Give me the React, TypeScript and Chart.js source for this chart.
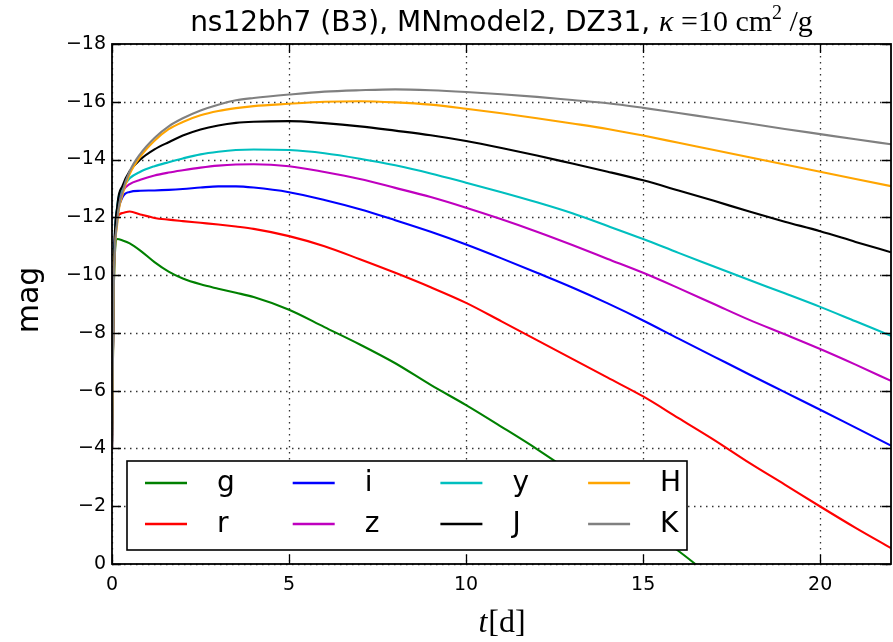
import React, { useEffect, useRef } from 'react';
import { Chart, registerables } from 'chart.js';

Chart.register(...registerables);

// ---------- data ----------
const times = [0, 0.05, 0.15, 0.3, 0.5, 0.8, 1.2, 1.6, 2, 2.5, 3, 3.5, 4, 5, 6, 7, 8, 9, 10, 11, 12, 13, 14, 15, 16, 17, 18, 19, 20, 21, 22];

const gMag = [-4, -9.5, -11.25, -11.2, -11.1, -10.85, -10.45, -10.12, -9.88, -9.68, -9.53, -9.39, -9.24, -8.8, -8.2, -7.6, -6.95, -6.2, -5.5, -4.75, -3.98, -3.15, -2.25, -1.35, -0.45, 0.5, 1.4, 2.3, 3.2, 4.1, 5.0];
const rMag = [-4, -10, -12.0, -12.15, -12.2, -12.1, -11.98, -11.92, -11.87, -11.81, -11.75, -11.68, -11.6, -11.35, -11.0, -10.55, -10.08, -9.58, -9.04, -8.4, -7.75, -7.1, -6.45, -5.8, -5.05, -4.3, -3.5, -2.75, -1.99, -1.25, -0.55];
const iMag = [-4, -10, -12.0, -12.7, -12.88, -12.92, -12.93, -12.95, -12.98, -13.03, -13.07, -13.07, -13.03, -12.87, -12.6, -12.28, -11.9, -11.5, -11.06, -10.58, -10.08, -9.57, -9.02, -8.43, -7.8, -7.18, -6.56, -5.95, -5.34, -4.72, -4.1];
const zMag = [-4, -10, -12.3, -12.9, -13.15, -13.3, -13.45, -13.55, -13.63, -13.72, -13.79, -13.83, -13.84, -13.77, -13.57, -13.33, -13.02, -12.7, -12.33, -11.93, -11.5, -11.04, -10.56, -10.08, -9.55, -9.0, -8.45, -7.95, -7.44, -6.9, -6.34];
const yMag = [-4, -10, -12.4, -13.0, -13.35, -13.58, -13.77, -13.91, -14.04, -14.18, -14.27, -14.33, -14.35, -14.33, -14.22, -14.03, -13.8, -13.52, -13.2, -12.87, -12.52, -12.14, -11.7, -11.25, -10.77, -10.3, -9.83, -9.37, -8.9, -8.4, -7.9];
const JMag = [-4, -10, -12.4, -13.1, -13.6, -14.0, -14.35, -14.6, -14.83, -15.04, -15.18, -15.27, -15.31, -15.33, -15.26, -15.15, -15.0, -14.84, -14.64, -14.4, -14.14, -13.86, -13.58, -13.28, -12.93, -12.57, -12.2, -11.85, -11.52, -11.15, -10.79];
const HMag = [-4, -9.5, -11.8, -12.8, -13.5, -14.1, -14.65, -15.05, -15.3, -15.53, -15.68, -15.78, -15.85, -15.93, -16.0, -16.02, -15.98, -15.9, -15.76, -15.6, -15.43, -15.25, -15.06, -14.83, -14.58, -14.33, -14.08, -13.83, -13.58, -13.33, -13.08];
const KMag = [-4, -9.5, -11.9, -12.9, -13.6, -14.2, -14.75, -15.15, -15.43, -15.7, -15.9, -16.05, -16.13, -16.25, -16.35, -16.4, -16.43, -16.4, -16.34, -16.26, -16.17, -16.06, -15.95, -15.79, -15.61, -15.43, -15.25, -15.06, -14.88, -14.7, -14.53];

const seriesNames = ['g', 'r', 'i', 'z', 'y', 'J', 'H', 'K'];
const seriesValues = [gMag, rMag, iMag, zMag, yMag, JMag, HMag, KMag];
const seriesColors = ['#008000', '#ff0000', '#0000ff', '#bf00bf', '#00bfbf', '#000000', '#ffa500', '#808080'];

const xTicks = [0, 5, 10, 15, 20];
const yTicks = [0, -2, -4, -6, -8, -10, -12, -14, -16, -18];

const titleSans = 'ns12bh7 (B3), MNmodel2, DZ31, ';
const yAxisTitle = 'mag';

const W = 893;
const H = 642;

const fmtMinus = (v: number) => (v < 0 ? '\u2212' + Math.abs(v) : String(v));

const decorPlugin = {
  id: 'decor',
  beforeDatasetsDraw(chart: any) {
    const { ctx, chartArea } = chart;
    const xs = chart.scales.x;
    const ys = chart.scales.y;
    ctx.save();
    ctx.strokeStyle = 'rgba(0,0,0,0.8)';
    ctx.lineWidth = 1.3;
    ctx.setLineDash([1.5, 4.5]);
    xTicks.forEach((t) => {
      const px = Math.round(xs.getPixelForValue(t)) + 0.5;
      ctx.beginPath();
      ctx.moveTo(px, chartArea.top);
      ctx.lineTo(px, chartArea.bottom);
      ctx.stroke();
    });
    yTicks.forEach((v) => {
      const py = Math.round(ys.getPixelForValue(v)) + 0.5;
      ctx.beginPath();
      ctx.moveTo(chartArea.left, py);
      ctx.lineTo(chartArea.right, py);
      ctx.stroke();
    });
    ctx.restore();
  },
  afterDatasetsDraw(chart: any) {
    const { ctx, chartArea } = chart;
    const xs = chart.scales.x;
    const ys = chart.scales.y;
    const { left, right, top, bottom } = chartArea;
    ctx.save();
    // inner ticks
    ctx.strokeStyle = '#000';
    ctx.lineWidth = 1.3;
    ctx.setLineDash([]);
    const tl = 9;
    xTicks.forEach((t) => {
      const px = Math.round(xs.getPixelForValue(t)) + 0.5;
      ctx.beginPath();
      ctx.moveTo(px, bottom);
      ctx.lineTo(px, bottom - tl);
      ctx.moveTo(px, top);
      ctx.lineTo(px, top + tl);
      ctx.stroke();
    });
    yTicks.forEach((v) => {
      const py = Math.round(ys.getPixelForValue(v)) + 0.5;
      ctx.beginPath();
      ctx.moveTo(left, py);
      ctx.lineTo(left + tl, py);
      ctx.moveTo(right, py);
      ctx.lineTo(right - tl, py);
      ctx.stroke();
    });
    // frame
    ctx.lineWidth = 1.8;
    ctx.strokeRect(left, top, right - left, bottom - top);

    // legend
    const boxL = 127, boxT = 461, boxR = 687, boxB = 550;
    ctx.fillStyle = '#fff';
    ctx.fillRect(boxL, boxT, boxR - boxL, boxB - boxT);
    ctx.lineWidth = 1.6;
    ctx.strokeStyle = '#000';
    ctx.strokeRect(boxL, boxT, boxR - boxL, boxB - boxT);
    ctx.font = '28px "DejaVu Sans"';
    ctx.textBaseline = 'middle';
    ctx.textAlign = 'left';
    chart.data.datasets.forEach((ds: any, i: number) => {
      const col = Math.floor(i / 2);
      const row = i % 2;
      const lx = 145 + col * 147.7;
      const ly = 483 + row * 41;
      ctx.strokeStyle = ds.borderColor;
      ctx.lineWidth = 2.4;
      ctx.beginPath();
      ctx.moveTo(lx, ly);
      ctx.lineTo(lx + 42, ly);
      ctx.stroke();
      ctx.fillStyle = '#000';
      ctx.fillText(ds.label, lx + 72, ly + 1);
    });

    // y-axis title
    ctx.save();
    ctx.translate(30, 300);
    ctx.rotate(-Math.PI / 2);
    ctx.font = '30px "DejaVu Sans"';
    ctx.textAlign = 'center';
    ctx.textBaseline = 'middle';
    ctx.fillStyle = '#000';
    ctx.fillText(yAxisTitle, 0, 0);
    ctx.restore();

    // x-axis title  t[d]
    const cx = (left + right) / 2;
    ctx.fillStyle = '#000';
    ctx.font = 'italic 32px "Liberation Serif"';
    const wT = ctx.measureText('t').width;
    ctx.font = '32px "Liberation Serif"';
    const wD = ctx.measureText('[d]').width;
    const x0 = cx - (wT + wD) / 2;
    ctx.textAlign = 'left';
    ctx.textBaseline = 'alphabetic';
    ctx.font = 'italic 32px "Liberation Serif"';
    ctx.fillText('t', x0, 632);
    ctx.font = '32px "Liberation Serif"';
    ctx.fillText('[d]', x0 + wT + 1, 632);

    // title
    const parts = [
      { t: titleSans, f: '28px "DejaVu Sans"', dy: 0 },
      { t: '\u03BA', f: 'italic 30px "Liberation Serif"', dy: 0 },
      { t: ' =10 cm', f: '30px "Liberation Serif"', dy: 0 },
      { t: '2', f: '20px "Liberation Serif"', dy: -12 },
      { t: ' /g', f: '30px "Liberation Serif"', dy: 0 },
    ];
    let total = 0;
    parts.forEach((p) => {
      ctx.font = p.f;
      total += ctx.measureText(p.t).width;
    });
    let tx = cx - total / 2;
    parts.forEach((p) => {
      ctx.font = p.f;
      ctx.fillText(p.t, tx, 31 + p.dy);
      tx += ctx.measureText(p.t).width;
    });
    ctx.restore();
  },
};

export default function App() {
  const ref = useRef<HTMLCanvasElement | null>(null);
  useEffect(() => {
    if (!ref.current) return;
    const datasets = seriesNames.map((name, i) => ({
      label: name,
      data: times.map((t, k) => ({ x: t, y: seriesValues[i][k] })),
      borderColor: seriesColors[i],
      backgroundColor: seriesColors[i],
      borderWidth: 2.1,
      pointRadius: 0,
      fill: false,
      cubicInterpolationMode: 'monotone' as const,
      order: seriesNames.length - i,
    }));
    const chart = new Chart(ref.current, {
      type: 'line',
      data: { datasets },
      options: {
        animation: false,
        responsive: false,
        devicePixelRatio: 1,
        layout: { padding: { top: 44, right: 2, left: 0, bottom: 0 } },
        plugins: { legend: { display: false }, title: { display: false }, tooltip: { enabled: false } },
        scales: {
          x: {
            type: 'linear',
            min: 0,
            max: 22,
            grid: { display: false, drawTicks: false },
            border: { display: false },
            ticks: {
              stepSize: 5,
              includeBounds: false,
              padding: 10,
              color: '#000',
              font: { family: 'DejaVu Sans', size: 19 },
              maxRotation: 0,
            },
            afterFit: (s: any) => { s.height = 78; },
          },
          y: {
            type: 'linear',
            min: -18,
            max: 0,
            reverse: true,
            grid: { display: false, drawTicks: false },
            border: { display: false },
            ticks: {
              stepSize: 2,
              padding: 6,
              color: '#000',
              font: { family: 'DejaVu Sans', size: 19 },
              callback: (v: any) => fmtMinus(Number(v)),
            },
            afterFit: (s: any) => { s.width = 112; },
          },
        },
      },
      plugins: [decorPlugin],
    });
    return () => chart.destroy();
  }, []);
  return (
    <div style={{ position: 'absolute', left: 0, top: 0, width: W, height: H, background: '#fff' }}>
      <canvas ref={ref} width={W} height={H} style={{ width: W, height: H, display: 'block' }} />
    </div>
  );
}
